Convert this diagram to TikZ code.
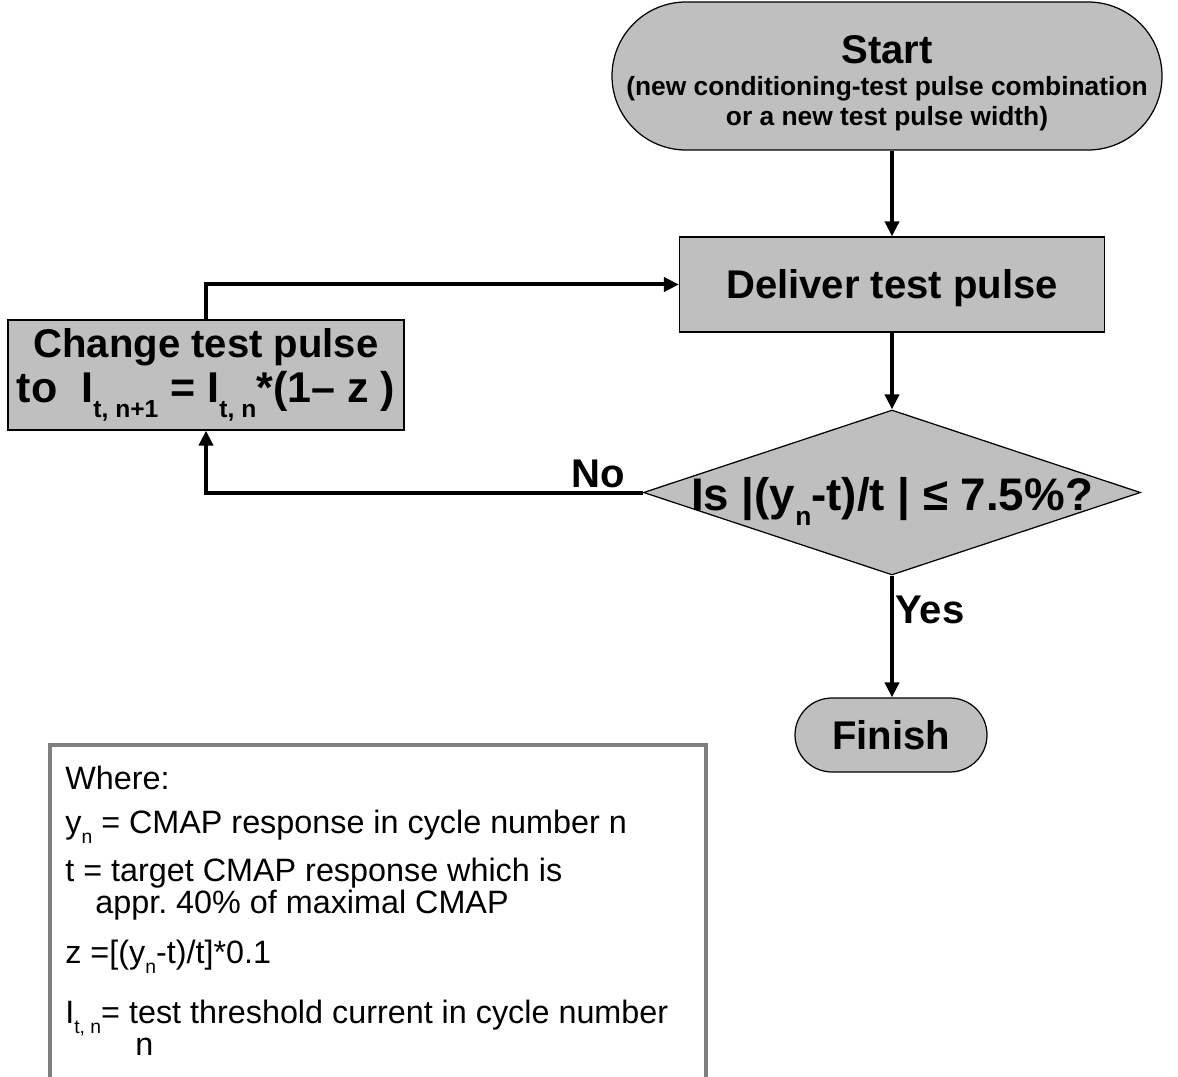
\documentclass[tikz,border=0pt]{standalone}
\usepackage{fontspec}
\setmainfont{Liberation Sans}
\usetikzlibrary{arrows.meta, positioning, shapes.geometric}

\newcommand{\lowsub}[2][14]{\raisebox{-0.3cm}{\fontsize{#1}{16}\selectfont #2}}
\newcommand{\smallsub}[1]{\raisebox{-0.2cm}{\fontsize{11}{12}\selectfont #1}}
\newcommand{\subfnt}{\fontsize{15}{17.2}\selectfont}

\begin{document}
\begin{tikzpicture}[every node/.style={font=\bfseries\fontsize{22.8}{28.5}\selectfont},
    box/.style={draw,line width=0.7pt,fill=gray!50},
    flow/.style={line width=0.08cm,-{Triangle[length=0.3cm,width=0.28cm]}},
    wline/.style={anchor=base west,inner sep=0pt,font=\frenchspacing\fontsize{18.4}{20}\selectfont}]
  \useasboundingbox (0,0) rectangle (23.56,21.52);

  % flow chart
  \node[box,rounded corners=1.48cm,inner xsep=0pt,minimum width=11cm,minimum height=2.96cm,
    align=center,font=\bfseries\subfnt] (start) at (17.74,20.0)
    {\rule{0pt}{0.84cm}{\fontsize{22.8}{28.5}\selectfont Start}\\[1pt]
     (new conditioning-test pulse combination\\or a new test pulse width)};
  \node[box,minimum width=8.5cm,minimum height=1.9cm,text height=0.58cm,text depth=0pt]
    (deliver) at (17.84,15.83) {Deliver test pulse};
  \node[box,minimum width=7.92cm,minimum height=2.2cm,align=center]
    (change) at (4.12,14.02) {Change test pulse\\[-3pt]{\fontsize{24.5}{28.5}\selectfont
      to~ I\lowsub{t, n+1} = I\lowsub{t, n}*(1– z )}};
  \node[box,diamond,aspect=3,inner ysep=0pt,inner xsep=-0.3cm,text height=0.72cm,text depth=0pt,
    minimum width=9.94cm,minimum height=3.3cm,font=\bfseries\fontsize{26}{30}\selectfont]
    (check) at (17.84,11.67) {Is |(y\lowsub[15]{n}-t)/t | ≤ 7.5\%?};
  \node[box,rounded corners=0.74cm,minimum width=3.84cm,minimum height=1.48cm]
    (finish) at (17.82,6.82) {Finish};

  \draw[flow] (start.south -| deliver.north) -- (deliver.north);
  \draw[flow] (deliver.south) -- (check.north);
  \draw[flow] (check.west) -| (change.south);
  \draw[flow] (change.north) |- (deliver.west);
  \draw[flow] (check.south) -- (finish.north -| check.south);
  \node[inner sep=0pt,above left=0.08cm and 0.36cm of check.west] (no) {No};
  \node[inner sep=0pt,below right=0.4cm and 0.06cm of check.south] (yes) {Yes};

  % legend
  \node[draw=gray,line width=0.08cm,minimum width=13.12cm,minimum height=6.82cm] (where) at (7.56,3.21) {};
  \foreach \i/\x/\y/\txt in {1/1.3/5.74/{Where:},
      2/1.3/4.86/{y\smallsub{n} = CMAP response in cycle number n},
      3/1.3/3.90/{t = target CMAP response which is},
      4/1.9/3.26/{appr. 40\% of maximal CMAP},
      5/1.3/2.26/{z =[(y\smallsub{n}-t)/t]*0.1},
      6/1.3/1.06/{I\smallsub{t, n}= test threshold current in cycle number},
      7/2.7/0.42/{n}}{
    \node[wline] (w\i) at (\x,\y) {\txt};
  }
\end{tikzpicture}
\end{document}
